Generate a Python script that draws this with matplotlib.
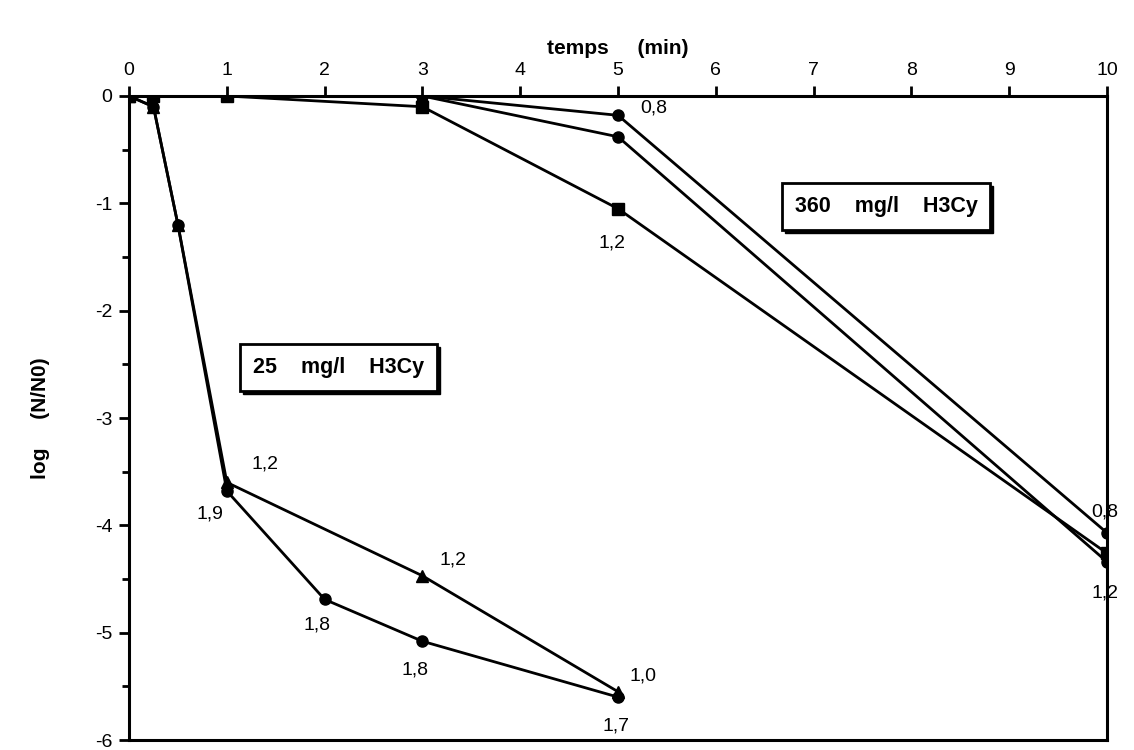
"""
log(N/N0) versus temps, 25 et 360 mg/l H3Cy.
"""
import numpy as np
import matplotlib
matplotlib.use("Agg")
from matplotlib import pyplot as plt
from matplotlib.patches import Rectangle

plt.rcParams['font.family'] = ['Liberation Sans', 'DejaVu Sans']

# 25 mg/l H3Cy
t25_tri = [0, 0.25, 0.5, 1, 3, 5]
y25_tri = [0, -0.1, -1.2, -3.6, -4.47, -5.55]
t25_circ = [0, 0.25, 0.5, 1, 2, 3, 5]
y25_circ = [0, -0.1, -1.2, -3.68, -4.69, -5.08, -5.6]
lab25_tri = ["1,2", "1,2", "1,0"]
lab25_circ = ["1,9", "1,8", "1,8", "1,7"]

# 360 mg/l H3Cy
t360_a = [0, 1, 3, 5, 10]
y360_a = [0, 0, 0, -0.18, -4.07]
t360_b = [0, 1, 3, 5, 10]
y360_b = [0, 0, 0, -0.38, -4.34]
t360_sq = [0, 0.25, 1, 3, 5, 10]
y360_sq = [0, 0, 0, -0.1, -1.05, -4.26]

xticks = np.arange(11)
yticks = np.arange(-6, 1)

fig = plt.figure(figsize=(11.34, 7.5), dpi=100)
ax = fig.add_axes([0.1138, 0.0133, 0.8624, 0.8587])

kw = dict(color='black', lw=2, ms=8, mec='black', mfc='black')
ax.plot(t25_tri, y25_tri, marker='^', **kw)
ax.plot(t25_circ, y25_circ, marker='o', **kw)
ax.plot(t360_a, y360_a, marker='o', **kw)
ax.plot(t360_b, y360_b, marker='o', **kw)
ax.plot(t360_sq, y360_sq, marker='s', **kw)
ax.plot([1, 3], [0, 0], ls='none', marker='*', ms=11, color='black')
ax.plot([3], [0], ls='none', marker='^', ms=9, color='black')

fs = 14
# point labels
ax.annotate(lab25_tri[0], (t25_tri[3], y25_tri[3]), xytext=(18, 10), textcoords='offset points', fontsize=fs)
ax.annotate(lab25_tri[1], (t25_tri[4], y25_tri[4]), xytext=(12, 8), textcoords='offset points', fontsize=fs)
ax.annotate(lab25_tri[2], (t25_tri[5], y25_tri[5]), xytext=(8, 8), textcoords='offset points', fontsize=fs)
ax.annotate(lab25_circ[0], (t25_circ[3], y25_circ[3]), xytext=(-22, -20), textcoords='offset points', fontsize=fs)
ax.annotate(lab25_circ[1], (t25_circ[4], y25_circ[4]), xytext=(-15, -22), textcoords='offset points', fontsize=fs)
ax.annotate(lab25_circ[2], (t25_circ[5], y25_circ[5]), xytext=(-15, -24), textcoords='offset points', fontsize=fs)
ax.annotate(lab25_circ[3], (t25_circ[6], y25_circ[6]), xytext=(-11, -24), textcoords='offset points', fontsize=fs)
ax.annotate("0,8", (t360_a[3], y360_a[3]), xytext=(16, 2), textcoords='offset points', fontsize=fs)
ax.annotate("1,2", (t360_sq[4], y360_sq[4]), xytext=(-14, -28), textcoords='offset points', fontsize=fs)
ax.annotate("0,8", (t360_a[4], y360_a[4]), xytext=(-11, 12), textcoords='offset points', fontsize=fs)
ax.annotate("1,2", (t360_b[4], y360_b[4]), xytext=(-11, -26), textcoords='offset points', fontsize=fs)

# boxed labels
boxes = []
for x, y, s in [(7.74, -1.03, "360    mg/l    H3Cy"), (2.14, -2.53, "25    mg/l    H3Cy")]:
    t = ax.text(x, y, s, ha='center', va='center', fontsize=15.5, fontweight='bold', zorder=5,
                bbox=dict(boxstyle='square,pad=0.6', fc='white', ec='black', lw=2))
    boxes.append(t)

ax.set_xlim(0, 10)
ax.set_ylim(-6, 0)
for s in ax.spines.values():
    s.set_linewidth(2.2)
ax.xaxis.tick_top()
ax.set_xticks(xticks)
ax.set_xticklabels([str(v) for v in xticks])
ax.set_yticks(yticks)
ax.set_yticklabels([str(v) for v in yticks])
ax.set_yticks(np.arange(-5.5, 0, 1), minor=True)
ax.tick_params(axis='both', which='major', direction='out', length=7, width=2, labelsize=14, pad=5)
ax.tick_params(axis='y', which='minor', direction='out', length=5, width=2)
ax.tick_params(axis='x', which='both', bottom=False, top=True)

ax.set_xlabel("temps     (min)", fontsize=15, fontweight='bold', labelpad=6)
ax.xaxis.set_label_position('top')
ax.set_ylabel("log     (N/N0)", fontsize=15, fontweight='bold', labelpad=32)

# shadow under the boxes
fig.canvas.draw()
for t in boxes:
    bb = t.get_bbox_patch().get_window_extent()
    fig.patches.append(Rectangle((bb.x0 + 3, bb.y0 - 3), bb.width, bb.height, transform=None,
                                 fc='black', ec='black', lw=1, zorder=1))
    ax.set_zorder(2)
    ax.patch.set_alpha(0)

plt.savefig("out.png", dpi=100)
